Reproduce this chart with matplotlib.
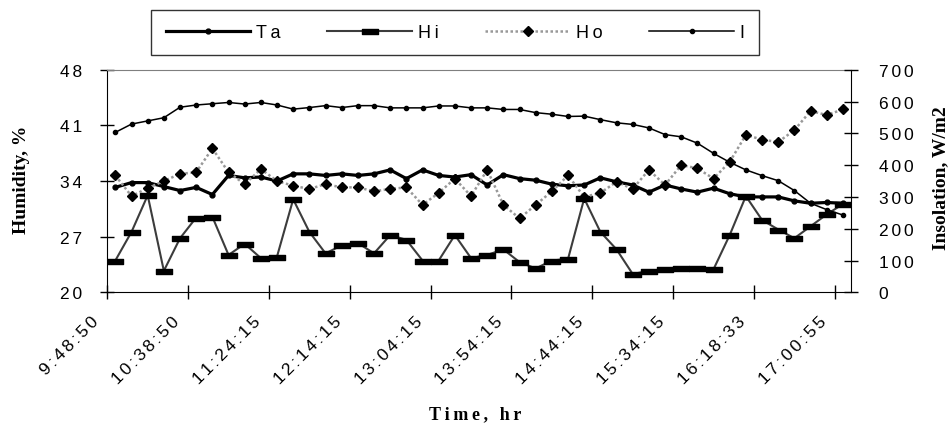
import numpy as np
import matplotlib
matplotlib.use("Agg")
import matplotlib.pyplot as plt
from matplotlib.path import Path
from matplotlib import transforms

# readings, one per logged sample (46 samples)
time_labels = ["9:48:50", "10:38:50", "11:24:15", "12:14:15", "13:04:15",
               "13:54:15", "14:44:15", "15:34:15", "16:18:33", "17:00:55"]

ta = [33.2, 33.8, 33.8, 33.3, 32.8, 33.2, 32.3, 34.7, 34.4, 34.5,
      34.0, 34.9, 34.9, 34.7, 34.9, 34.7, 34.9, 35.4, 34.3, 35.4,
      34.7, 34.5, 34.8, 33.5, 34.8, 34.3, 34.1, 33.6, 33.4, 33.5,
      34.4, 33.9, 33.5, 32.6, 33.5, 33.0, 32.6, 33.1, 32.4, 32.0,
      32.0, 32.0, 31.5, 31.2, 31.3, 31.2]

hi = [24.0, 27.6, 32.2, 22.7, 26.8, 29.4, 29.5, 24.7, 26.1, 24.3,
      24.5, 31.7, 27.6, 24.9, 25.9, 26.2, 24.9, 27.2, 26.6, 24.0,
      24.0, 27.2, 24.3, 24.7, 25.4, 23.8, 23.0, 24.0, 24.2, 31.8,
      27.6, 25.4, 22.3, 22.7, 22.9, 23.1, 23.1, 22.9, 27.2, 32.1,
      29.1, 27.9, 26.8, 28.3, 29.8, 31.1]

ho = [34.7, 32.1, 33.1, 34.0, 34.9, 35.1, 38.1, 35.1, 33.6, 35.5,
      34.0, 33.4, 33.0, 33.6, 33.2, 33.2, 32.7, 33.0, 33.2, 31.0,
      32.5, 34.3, 32.1, 35.4, 31.0, 29.3, 31.0, 32.7, 34.7, 32.0,
      32.5, 33.9, 33.0, 35.4, 33.5, 36.0, 35.6, 34.3, 36.4, 39.8,
      39.2, 38.9, 40.4, 42.8, 42.3, 43.0]

insol = [503, 529, 539, 549, 582, 589, 593, 597, 592, 597,
         589, 576, 581, 587, 581, 587, 587, 580, 580, 580,
         586, 586, 580, 580, 575, 575, 565, 560, 553, 554,
         543, 533, 528, 517, 496, 489, 469, 437, 409, 385,
         367, 351, 320, 280, 260, 243]

hum_ticks = [20, 27, 34, 41, 48]
ins_ticks = [0, 100, 200, 300, 400, 500, 600, 700]

plt.rcParams["font.family"] = ["Liberation Sans", "DejaVu Sans"]

NARROW = "\u2006"
THIN = "\u2009"


def spaced(s, sp=NARROW):
    # excel-ish letter spacing
    return sp.join(str(s))


x = np.arange(len(ta))

fig = plt.figure(figsize=(9.51, 4.27), dpi=100)
ax = fig.add_axes([0.1128, 0.3131, 0.7820, 0.5213])
ax2 = ax.twinx()

bar = Path([(-1, -0.3), (1, -0.3), (1, 0.3), (-1, 0.3), (-1, -0.3)],
           [Path.MOVETO, Path.LINETO, Path.LINETO, Path.LINETO, Path.CLOSEPOLY])

ln_hi, = ax.plot(x, hi, color="#3c3c3c", lw=1.5,
                 marker=bar, ms=12, mfc="black", mec="black", zorder=2)
ln_ta, = ax.plot(x, ta, color="black", lw=2.3, marker="o", ms=3.5, zorder=3)
ln_ho, = ax.plot(x, ho, color="#999999", lw=1.8, ls=(0, (1, 1)),
                 marker="D", ms=5.5, mfc="black", mec="black", zorder=4)
ln_i, = ax2.plot(x, insol, color="black", lw=1.1, marker="o", ms=3, zorder=3)

ax.set_xlim(-0.5, len(ta) - 0.5)
ax.set_ylim(20, 48)
ax2.set_ylim(0, 700)

ax.set_yticks(hum_ticks)
ax.set_yticklabels([spaced(t) for t in hum_ticks], fontsize=12.5)
ax2.set_yticks(ins_ticks)
ax2.set_yticklabels([spaced(t) for t in ins_ticks], fontsize=12.5)

ax.set_xticks(np.arange(-0.5, len(ta) - 1, 5))
ax.set_xticklabels([])
ax.tick_params(axis="x", direction="inout", length=10, width=1)
ax.tick_params(axis="y", direction="inout", length=10, width=1, pad=13)
ax2.tick_params(axis="y", direction="inout", length=10, width=1, pad=15)

for s in ["left", "bottom"]:
    ax.spines[s].set_color("black")
ax.spines["right"].set_visible(False)
ax.spines["top"].set_color("#7f7f7f")
for s in ["left", "bottom", "top"]:
    ax2.spines[s].set_visible(False)
ax2.spines["right"].set_color("black")

# rotated time labels
lab_tr = transforms.offset_copy(ax.get_xaxis_transform(), fig=fig, x=-11, y=-26, units="dots")
for k, lab in enumerate(time_labels):
    ax.text(5 * k - 0.5, 0, spaced(lab), transform=lab_tr, rotation=45,
            rotation_mode="anchor", ha="right", va="center", fontsize=12.5)

serif = ["Liberation Serif", "DejaVu Serif"]
fig.text(22 / 951, 1 - 180 / 427, "Humidity, %", rotation=90, ha="center", va="center",
         fontsize=14, fontweight="bold", family=serif)
fig.text(941 / 951, 1 - 178 / 427, "Insolation, W/m2", rotation=90, ha="center", va="center",
         fontsize=14, fontweight="bold", family=serif)
fig.text(475 / 951, 1 - 415 / 427, spaced("Time, hr", THIN), ha="center", va="center",
         fontsize=13, fontweight="bold", family=serif)

leg = fig.legend([ln_ta, ln_hi, ln_ho, ln_i], [spaced(n, THIN) for n in ["Ta", "Hi", "Ho", "I"]],
                 loc="center", bbox_to_anchor=(455 / 951, 1 - 33.5 / 427), ncol=4,
                 frameon=True, fancybox=False, edgecolor="black", fontsize=13,
                 handlelength=4.7, handletextpad=0.3, columnspacing=2.6,
                 borderpad=0.8, numpoints=1)
leg.get_frame().set_linewidth(1.0)

fig.savefig("out.png", dpi=100)
